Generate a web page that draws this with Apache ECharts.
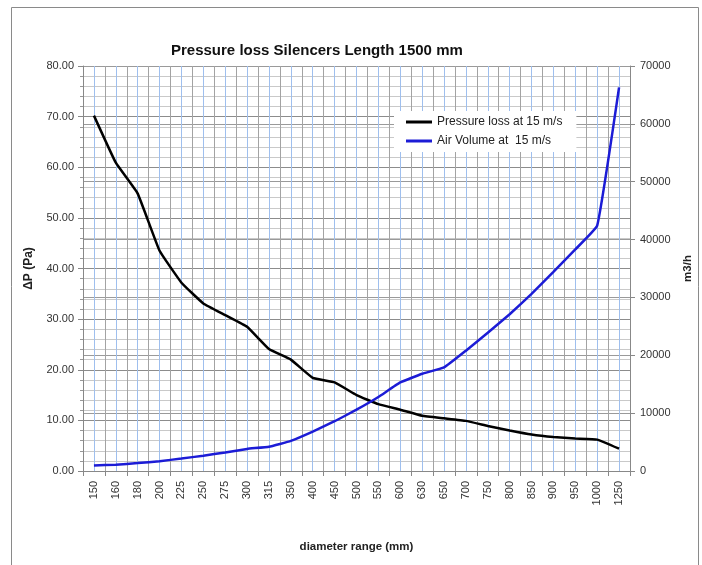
<!DOCTYPE html>
<html>
<head>
<meta charset="utf-8">
<script src="https://cdn.jsdelivr.net/npm/echarts@6/dist/echarts.min.js"></script>
<style>html,body{margin:0;padding:0;background:#fff;}#c{width:702px;height:565px;}</style>
</head>
<body>
<div id="c"></div>
<script>
const categories = ['150','160','180','200','225','250','275','300','315','350','400','450','500','550','600','630','650','700','750','800','850','900','950','1000','1250'];
const pressureLoss = [70.2, 60.9, 54.8, 43.5, 37.2, 33.1, 30.8, 28.5, 24.1, 22.0, 18.4, 17.5, 15.0, 13.2, 12.1, 10.9, 10.4, 9.9, 8.9, 8.0, 7.2, 6.7, 6.4, 6.2, 4.4];
const airVolume = [950, 1090, 1370, 1700, 2150, 2650, 3200, 3820, 4200, 5200, 6800, 8600, 10600, 12800, 15300, 16800, 17900, 20800, 23900, 27100, 30600, 34400, 38300, 42400, 66300];
const seriesNames = ['Pressure loss at 15 m/s', 'Air Volume at  15 m/s'];
const leftTicks = {min: 0, max: 80, interval: 10};
const rightTicks = {min: 0, max: 70000, interval: 10000};

const FONT = 'Liberation Sans';
const chart = echarts.init(document.getElementById('c'), null, {renderer: 'canvas'});
chart.setOption({
  backgroundColor: '#fff',
  animation: false,
  textStyle: {fontFamily: FONT},
  title: {
    text: 'Pressure loss Silencers Length 1500 mm',
    left: 166, top: 38,
    textStyle: {fontFamily: FONT, fontSize: 15, fontWeight: 'bold', color: '#111'}
  },
  graphic: [{
    type: 'rect', left: 9, top: 5, silent: true,
    shape: {width: 687, height: 620},
    style: {fill: 'none', stroke: '#8a8a8a', lineWidth: 1}
  }],
  legend: {
    orient: 'vertical', left: 394, top: 111,
    backgroundColor: '#fff', padding: [5, 14, 5, 12], itemGap: 7,
    icon: 'rect', itemWidth: 26, itemHeight: 3,
    textStyle: {fontFamily: FONT, fontSize: 12, color: '#222'},
    data: seriesNames
  },
  grid: {left: 83, right: 67, top: 66, height: 405, containLabel: false},
  xAxis: [{
    type: 'category', data: categories, boundaryGap: true,
    name: 'diameter range (mm)', nameLocation: 'middle', nameGap: 70,
    nameTextStyle: {fontFamily: FONT, fontSize: 11.5, fontWeight: 'bold', color: '#222'},
    axisLine: {lineStyle: {color: '#888'}},
    axisTick: {show: true, length: 5, lineStyle: {color: '#888'}},
    axisLabel: {rotate: 90, fontSize: 11, color: '#333', margin: 10, interval: 0},
    splitLine: {show: false}
  }, {
    type: 'value', min: 0, max: 50, interval: 1, show: true, position: 'top',
    axisLine: {show: false}, axisTick: {show: false}, axisLabel: {show: false},
    splitLine: {show: true, lineStyle: {color: ['#a3a3a3', '#9fbfee'], width: 1}}
  }],
  yAxis: [{
    type: 'value', min: leftTicks.min, max: leftTicks.max, interval: leftTicks.interval,
    name: 'ΔP (Pa)', nameLocation: 'middle', nameGap: 48, nameRotate: 90,
    nameTextStyle: {fontFamily: FONT, fontSize: 12, fontWeight: 'bold', color: '#222'},
    axisLine: {show: true, lineStyle: {color: '#888'}},
    axisTick: {show: true, length: 5, lineStyle: {color: '#888'}},
    minorTick: {show: true, splitNumber: 5, length: 3, lineStyle: {color: '#999'}},
    axisLabel: {fontSize: 11, color: '#333', margin: 9, formatter: v => v.toFixed(2)},
    splitLine: {show: true, lineStyle: {color: '#8c8c8c'}},
    minorSplitLine: {show: true, lineStyle: {color: '#c9c9c9'}}
  }, {
    type: 'value', min: rightTicks.min, max: rightTicks.max, interval: rightTicks.interval, position: 'right',
    name: 'm3/h', nameLocation: 'middle', nameGap: 52, nameRotate: 90,
    nameTextStyle: {fontFamily: FONT, fontSize: 11.5, fontWeight: 'bold', color: '#222'},
    axisLine: {show: true, lineStyle: {color: '#888'}},
    axisTick: {show: true, length: 5, lineStyle: {color: '#888'}},
    axisLabel: {fontSize: 11, color: '#333', margin: 10, formatter: v => String(v)},
    splitLine: {show: true, lineStyle: {color: '#9a9a9a'}}
  }],
  series: [{
    name: seriesNames[0], type: 'line', data: pressureLoss, xAxisIndex: 0, yAxisIndex: 0,
    showSymbol: false, smooth: 0.1, lineStyle: {color: '#000', width: 2.5}, itemStyle: {color: '#000'}, z: 5
  }, {
    name: seriesNames[1], type: 'line', data: airVolume, xAxisIndex: 0, yAxisIndex: 1,
    showSymbol: false, smooth: 0.1, lineStyle: {color: '#1c1cd6', width: 2.5}, itemStyle: {color: '#1c1cd6'}, z: 5
  }]
});
</script>
</body>
</html>
